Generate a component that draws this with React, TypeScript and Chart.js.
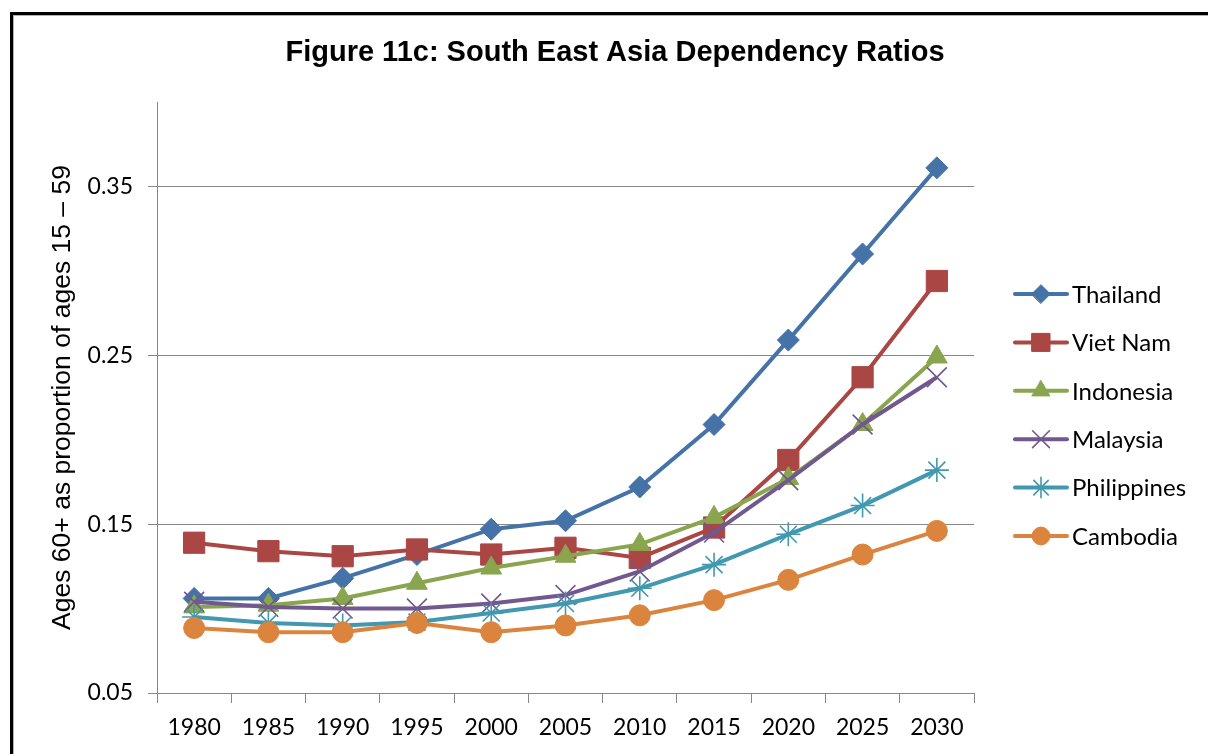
import React, { useEffect, useRef } from "react";
import { Chart, registerables } from "chart.js";
import { drawPoint } from "chart.js/helpers";

Chart.register(...registerables);

const years = ["1980", "1985", "1990", "1995", "2000", "2005", "2010", "2015", "2020", "2025", "2030"];
const thailand = [0.106, 0.106, 0.118, 0.132, 0.147, 0.152, 0.172, 0.209, 0.259, 0.31, 0.361];
const vietNam = [0.139, 0.134, 0.131, 0.135, 0.132, 0.136, 0.13, 0.148, 0.188, 0.237, 0.294];
const indonesia = [0.101, 0.102, 0.106, 0.115, 0.124, 0.131, 0.138, 0.154, 0.177, 0.209, 0.249];
const malaysia = [0.104, 0.101, 0.1, 0.1, 0.103, 0.108, 0.122, 0.145, 0.176, 0.209, 0.237];
const philippines = [0.095, 0.0915, 0.09, 0.092, 0.0974, 0.103, 0.112, 0.126, 0.144, 0.161, 0.182];
const cambodia = [0.0885, 0.086, 0.086, 0.0915, 0.086, 0.09, 0.096, 0.105, 0.117, 0.132, 0.146];
const yTicks = [0.05, 0.15, 0.25, 0.35];

const seriesNames = ["Thailand", "Viet Nam", "Indonesia", "Malaysia", "Philippines", "Cambodia"];
const seriesValues = [thailand, vietNam, indonesia, malaysia, philippines, cambodia];
const seriesColors = ["#4572A7", "#AA4643", "#89A54E", "#71588F", "#4198AF", "#DB843D"];
const seriesMarkers = ["rectRot", "rect", "triangle", "crossRot", "star", "circle"];
const markerRadius = [11, 15, 12, 14, 12, 10.5];
const markerBorder = [1, 1, 1, 1.6, 1.6, 1];

const titleText = "Figure 11c: South East Asia Dependency Ratios";
const yTitle = "Ages 60+ as proportion of ages 15 \u2013 59";
const gridColor = "#878787";
const tickFont = "Lato";

const framePlugin = {
  id: "frame",
  beforeDraw(chart: any) {
    const ctx = chart.ctx;
    ctx.save();
    ctx.fillStyle = "#000";
    ctx.fillRect(10, 12, chart.width - 10, 3);
    ctx.fillRect(10, 12, 3, chart.height - 12);
    ctx.fillStyle = "#b0b0b0";
    ctx.fillRect(13, 15, chart.width - 13, 1);
    ctx.fillRect(13, 15, 1, chart.height - 15);
    ctx.restore();
  },
  afterDraw(chart: any) {
    const ctx = chart.ctx;
    ctx.save();
    ctx.fillStyle = "#000";
    ctx.font = "bold 29px 'Liberation Sans', Arial, sans-serif";
    ctx.textAlign = "center";
    ctx.textBaseline = "middle";
    ctx.fillText(titleText, 615, 53);

    const startY = 294;
    const step = 48.4;
    chart.data.datasets.forEach((ds: any, i: number) => {
      const y = startY + step * i;
      ctx.strokeStyle = ds.borderColor;
      ctx.lineWidth = 4;
      ctx.lineCap = "round";
      ctx.beginPath();
      ctx.moveTo(1015, y);
      ctx.lineTo(1067, y);
      ctx.stroke();
      ctx.fillStyle = ds.pointBackgroundColor;
      ctx.strokeStyle = ds.pointBorderColor;
      ctx.lineWidth = ds.pointBorderWidth;
      drawPoint(ctx, { pointStyle: ds.pointStyle, radius: ds.pointRadius * 0.85, rotation: 0, borderWidth: ds.pointBorderWidth }, 1041, y);
      ctx.fillStyle = "#000";
      ctx.font = `24px ${tickFont}`;
      ctx.textAlign = "left";
      ctx.textBaseline = "middle";
      ctx.fillText(ds.label, 1072, y + 1);
    });
    ctx.restore();
  },
};

export default function App() {
  const ref = useRef<HTMLCanvasElement | null>(null);
  useEffect(() => {
    document.body.style.margin = "0";
    const canvas = ref.current;
    if (!canvas) return;
    const chart = new Chart(canvas, {
      type: "line",
      data: {
        labels: years,
        datasets: seriesNames.map((name, i) => ({
          label: name,
          data: seriesValues[i],
          borderColor: seriesColors[i],
          backgroundColor: seriesColors[i],
          borderWidth: 4,
          tension: 0,
          pointStyle: seriesMarkers[i] as any,
          pointRadius: markerRadius[i],
          pointHoverRadius: markerRadius[i],
          pointBackgroundColor: seriesColors[i],
          pointBorderColor: seriesColors[i],
          pointBorderWidth: markerBorder[i],
          order: seriesNames.length - i,
          fill: false,
        })),
      },
      options: {
        animation: false,
        responsive: false,
        events: [],
        layout: { padding: { left: 0, right: 234, top: 102, bottom: 0 } },
        plugins: {
          legend: { display: false },
          title: { display: false },
          tooltip: { enabled: false },
        },
        scales: {
          x: {
            type: "category",
            offset: true,
            grid: { display: true, drawOnChartArea: false, drawTicks: true, tickLength: 10, color: gridColor, offset: true },
            border: { display: true, color: gridColor, width: 1 },
            ticks: { color: "#000", font: { family: tickFont, size: 23 }, padding: 11, maxRotation: 0, autoSkip: false },
            afterFit(scale: any) {
              scale.height = 61;
            },
          },
          y: {
            min: 0.05,
            max: 0.4,
            grid: { display: true, drawTicks: true, tickLength: 9, color: gridColor },
            border: { display: true, color: gridColor, width: 1 },
            ticks: {
              color: "#000",
              font: { family: tickFont, size: 23 },
              padding: 15,
              callback: (v: any) => Number(v).toFixed(2),
            },
            afterBuildTicks(scale: any) {
              scale.ticks = yTicks.map((v) => ({ value: v }));
            },
            afterFit(scale: any) {
              scale.width = 157;
            },
            title: {
              display: true,
              text: yTitle,
              color: "#000",
              font: { family: "'Liberation Sans', Arial, sans-serif", size: 26.5 },
              padding: { top: 47, bottom: 0 },
            },
          },
        },
      },
      plugins: [framePlugin],
    });
    return () => chart.destroy();
  }, []);
  return <canvas ref={ref} width={1208} height={754} style={{ display: "block", width: 1208, height: 754 }} />;
}
